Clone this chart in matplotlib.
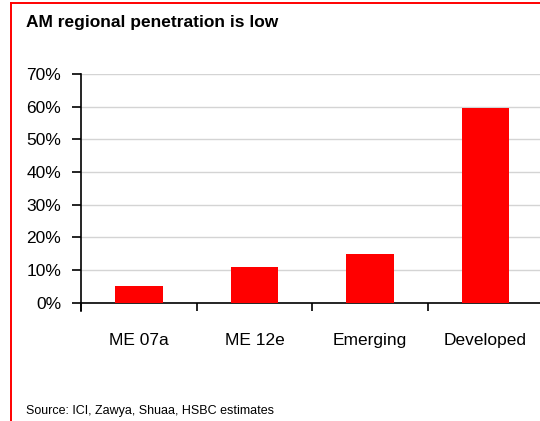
import matplotlib
matplotlib.use("Agg")
import matplotlib.pyplot as plt
from matplotlib.ticker import FixedLocator, PercentFormatter
from matplotlib.lines import Line2D

plt.rcParams['font.family'] = ['Liberation Sans', 'DejaVu Sans']

categories = ["ME 07a", "ME 12e", "Emerging", "Developed"]
values = [5.1, 10.9, 14.9, 59.5]
yticks = [0, 10, 20, 30, 40, 50, 60, 70]
title = "AM regional penetration is low"
source = "Source: ICI, Zawya, Shuaa, HSBC estimates"

fig = plt.figure(figsize=(5.40, 4.21), dpi=100)
ax = fig.add_axes([81.3 / 540, (421 - 302.7) / 421, 462 / 540, (302.7 - 74) / 421])

x = list(range(len(categories)))
ax.bar(x, values, width=0.41, color="#FF0000", zorder=3)

ax.set_ylim(0, 70)
ax.set_xlim(-0.5, len(categories) - 0.5)
ax.set_yticks(yticks)
ax.yaxis.set_major_formatter(PercentFormatter(decimals=0))
ax.yaxis.grid(True, color="#d4d4d4", linewidth=1.0, zorder=0)
ax.set_axisbelow(True)

# boundary ticks (major) and centred labels (minor)
ax.xaxis.set_major_locator(FixedLocator([i - 0.5 for i in range(len(categories) + 1)]))
ax.xaxis.set_major_formatter(plt.NullFormatter())
ax.xaxis.set_minor_locator(FixedLocator(x))
ax.set_xticklabels(categories, minor=True)
ax.tick_params(axis='x', which='major', direction='out', length=6, width=1.2, color='black')
ax.tick_params(axis='x', which='minor', length=0, pad=22, labelsize=12.5)
ax.tick_params(axis='y', direction='out', length=6.5, width=1.2, pad=8, labelsize=12.5)

for s in ['top', 'right']:
    ax.spines[s].set_visible(False)
for s in ['left', 'bottom']:
    ax.spines[s].set_linewidth(1.2)
ax.spines['left'].set_bounds(-2.4, 70)
ax.spines['left'].set_zorder(4)

fig.text(26 / 540, 1 - 22 / 421, title, fontsize=12.5, fontweight='bold', ha='left', va='center')
fig.text(26 / 540, 1 - 411 / 421, source, fontsize=9, ha='left', va='center')

# red frame (top and left)
fig.add_artist(Line2D([10.8 / 540, 10.8 / 540], [0, 1 - 3.2 / 421], transform=fig.transFigure,
                      color='#FF0000', linewidth=1.4))
fig.add_artist(Line2D([10.8 / 540, 1], [1 - 3.2 / 421, 1 - 3.2 / 421], transform=fig.transFigure,
                      color='#FF0000', linewidth=1.4))

fig.savefig("out.png", dpi=100)
